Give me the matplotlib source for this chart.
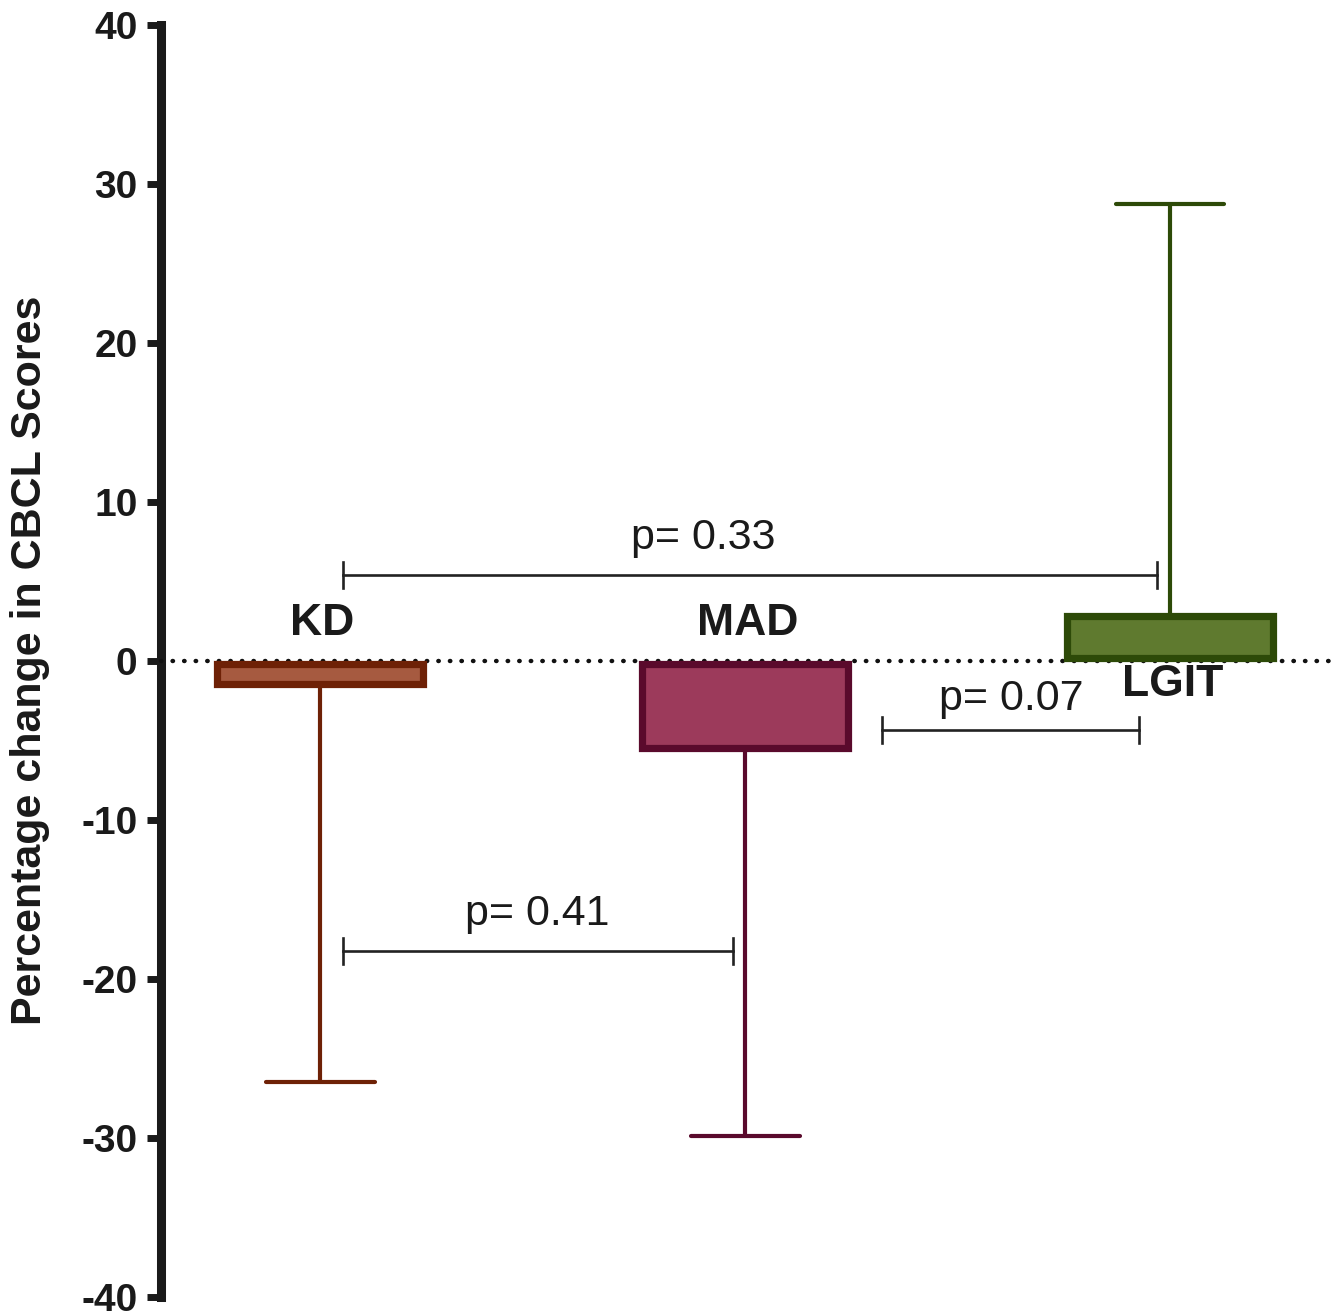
import matplotlib
matplotlib.use("Agg")
import matplotlib.pyplot as plt
from matplotlib.patches import Rectangle

plt.rcParams['font.family'] = ['Liberation Sans', 'DejaVu Sans']

# ---- data ----
groups = ["KD", "MAD", "LGIT"]
box_low = [-1.42, -5.50, 0.22]
box_high = [-0.16, -0.16, 2.86]
whisker_end = [-26.45, -29.87, 28.76]
whisker_start = [-1.42, -5.50, 2.86]
edge_colors = ["#6e2106", "#5a0a2c", "#2d4a08"]
fill_colors = ["#a65a40", "#9c3a5b", "#5f7a2f"]
label_y = [2.35, 2.35, -1.5]

# comparisons: (x_start, x_end, y_line, p_text, text_x, text_y)
comp_x1 = [1.054, 2.322, 1.054]
comp_x2 = [2.969, 2.927, 1.972]
comp_y = [5.4, -4.35, -18.25]
comp_text = ["p= 0.33", "p= 0.07", "p= 0.41"]
comp_tx = [1.90, 2.625, 1.51]
comp_ty = [7.75, -2.4, -15.9]

yticks = [-40, -30, -20, -10, 0, 10, 20, 30, 40]
ylabel = "Percentage change in CBCL Scores"

TXT = "#1a1a1a"

fig = plt.figure(figsize=(13.37, 13.14), dpi=100)
ax = fig.add_axes([161/1337, 17/1314, (1332-161)/1337, (1297-25)/1314])
ax.set_xlim(1 - 159.5/425, 3 + 162/425)
ax.set_ylim(-40, 40)

# zero reference line
ax.plot(ax.get_xlim(), [0, 0], color="#111111", lw=3.2,
        linestyle=(0, (0.1, 2.5)), dash_capstyle="round", zorder=3, clip_on=False)

box_w = 0.485
cap_w = 0.256
for i, g in enumerate(groups):
    x = i + 1
    # whisker
    ax.plot([x, x], [whisker_start[i], whisker_end[i]], color=edge_colors[i],
            lw=3.0, solid_capstyle="butt", zorder=2)
    ax.plot([x - cap_w/2, x + cap_w/2], [whisker_end[i], whisker_end[i]],
            color=edge_colors[i], lw=3.0, solid_capstyle="round", zorder=2)
    # box
    r = Rectangle((x - box_w/2, box_low[i]), box_w, box_high[i] - box_low[i],
                  facecolor=fill_colors[i], edgecolor=edge_colors[i], lw=5.2,
                  joinstyle="miter", zorder=4)
    ax.add_patch(r)
    ax.text(x + 0.005, label_y[i], g, ha="center", va="center", fontsize=32,
            fontweight="bold", color=TXT, zorder=5)

tick_h = 0.8
for x1, x2, y, t, tx, ty in zip(comp_x1, comp_x2, comp_y, comp_text, comp_tx, comp_ty):
    ax.plot([x1, x2], [y, y], color="#222222", lw=1.9, zorder=5)
    ax.plot([x1, x1], [y - tick_h, y + tick_h], color="#222222", lw=1.9, zorder=5)
    ax.plot([x2, x2], [y - tick_h, y + tick_h], color="#222222", lw=1.9, zorder=5)
    ax.text(tx, ty, t, ha="center", va="center", fontsize=31, color=TXT, zorder=5)

for s in ["top", "right", "bottom"]:
    ax.spines[s].set_visible(False)
ax.spines["left"].set_linewidth(6.5)
ax.spines["left"].set_color(TXT)
ax.spines["left"].set_capstyle("projecting")
ax.set_xticks([])
ax.set_yticks(yticks)
ax.set_yticklabels([str(v) for v in yticks])
ax.tick_params(axis="y", length=10, width=5, color=TXT, pad=7,
               labelsize=28, labelcolor=TXT)
for lab in ax.get_yticklabels():
    lab.set_fontweight("bold")

fig.text(30/1337, 1 - 660/1314, ylabel, rotation=90, ha="center", va="center",
         fontsize=31, fontweight="bold", color=TXT)

fig.savefig("out.png", dpi=100)
